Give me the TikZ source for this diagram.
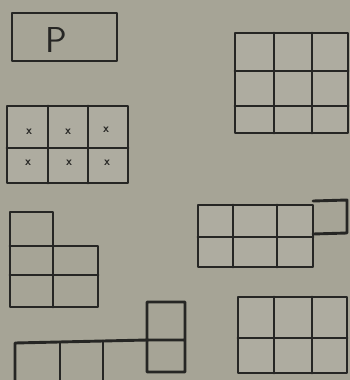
\documentclass[tikz,border=0pt]{standalone}
\definecolor{paper}{RGB}{166,164,150}
\definecolor{ink}{RGB}{38,38,36}
\definecolor{cellfill}{RGB}{174,172,160}
\begin{document}
\begin{tikzpicture}[x=1pt,y=-1pt,
  gridline/.style={draw=ink, line width=2.9pt, line cap=round, line join=round},
  cellbg/.style={fill=cellfill},
  xmark/.style={text=ink, font=\fontsize{12}{12}\sffamily\bfseries, inner sep=0pt}]
\fill[paper] (0,0) rectangle (350,380);
\useasboundingbox (0,0) rectangle (350,380);
% P box
\draw[gridline] (12,13) rectangle (117,61);
\node[text=ink, font=\fontsize{36}{36}\sffamily, inner sep=0pt] (p) at (56,40) {P};
% 3x2 grid with x marks
\fill[cellbg] (7,106) rectangle (128,183);
\draw[gridline] (7,106) rectangle (128,183);
\draw[gridline] (48,106) -- (48,183) (88,106) -- (88,183) (7,148) -- (128,148);
\node[xmark] (x1) at (29,132) {x};
\node[xmark] (x2) at (68,132) {x};
\node[xmark] (x3) at (106,130) {x};
\node[xmark] (x4) at (28,163) {x};
\node[xmark] (x5) at (69,163) {x};
\node[xmark] (x6) at (107,163) {x};
% 3x3 grid
\fill[cellbg] (235,33) rectangle (348,133);
\draw[gridline] (235,33) rectangle (348,133);
\draw[gridline] (274,33) -- (274,133) (312,33) -- (312,133) (235,71) -- (348,71) (235,106) -- (348,106);
% L shape
\draw[gridline] (10,212) -- (53,212) -- (53,246) -- (98,246) -- (98,307) -- (10,307) -- cycle;
\draw[gridline] (10,246) -- (53,246) -- (53,307) (10,275) -- (98,275);
% bottom-left shape
\draw[gridline] (15,382) -- (15,343) -- (147,340) -- (147,302) -- (185,302) -- (185,372) -- (147,372) -- (147,340) -- (185,340);
\draw[gridline] (60,342) -- (60,382) (103,341) -- (103,382);
% 2x3 grid plus extra cell
\fill[cellbg] (198,205) rectangle (313,267);
\draw[gridline] (198,205) rectangle (313,267);
\draw[gridline] (233,205) -- (233,267) (277,205) -- (277,267) (198,237) -- (313,237);
\draw[gridline] (313,201) -- (347,200) -- (347,233) -- (313,234);
% bottom-right grid
\fill[cellbg] (238,297) rectangle (347,373);
\draw[gridline] (238,297) rectangle (347,373);
\draw[gridline] (274,297) -- (274,373) (312,297) -- (312,373) (238,338) -- (347,338);
\end{tikzpicture}
\end{document}
